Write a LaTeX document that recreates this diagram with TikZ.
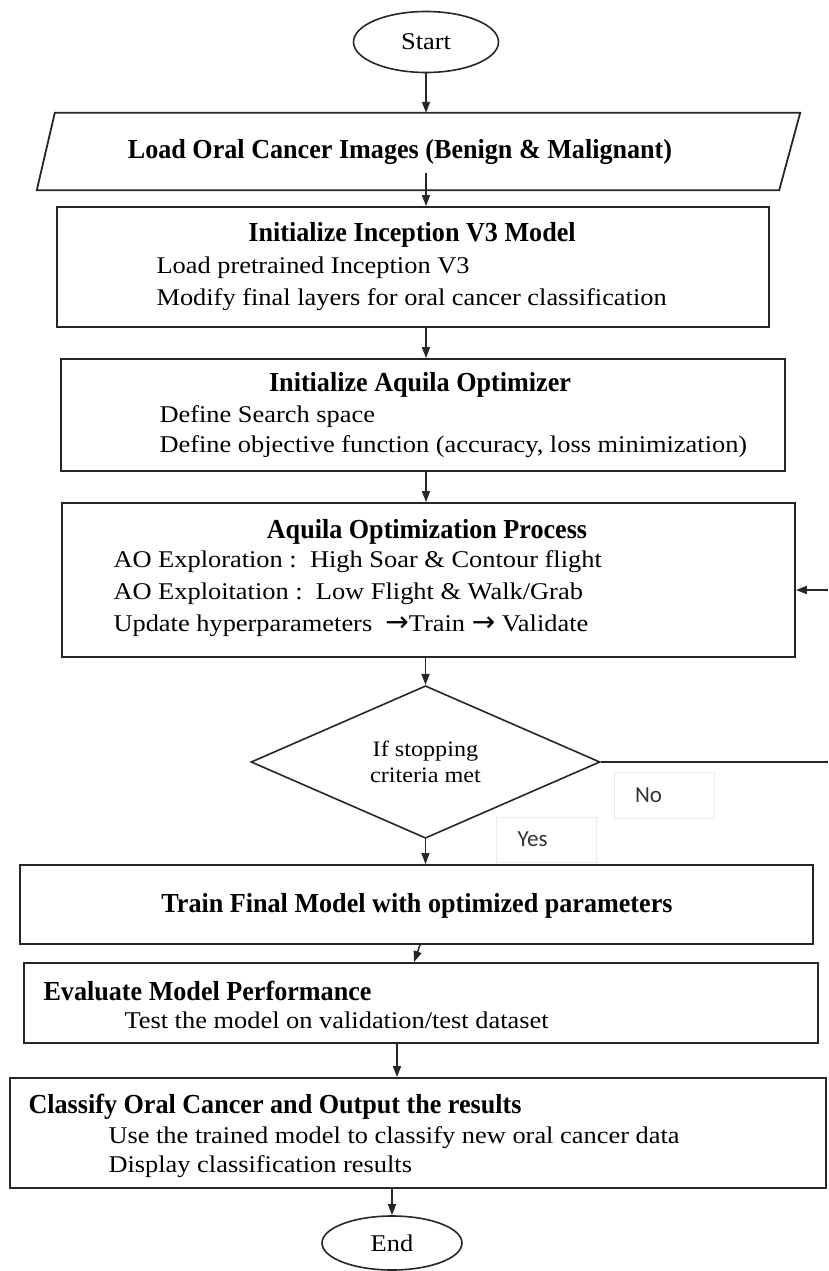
\documentclass[tikz,border=0pt]{standalone}
\usepackage{fontspec}
\setmainfont{Liberation Serif}[FakeStretch=1.1]
\newfontfamily\headfont{Liberation Serif}[FakeStretch=0.95]
\newfontfamily\labelfont{Carlito}
\newfontfamily\symfont{DejaVu Sans}
\usetikzlibrary{arrows.meta,shapes.geometric,calc}

\newcommand{\stepto}{{\symfont\fontsize{28}{28}\selectfont →}}

\tikzset{
  box/.style={draw=black!85, line width=1.8pt, rectangle, inner sep=0pt},
  term/.style={draw=black!85, line width=1.6pt, ellipse, inner sep=0pt, font=\fontsize{24}{28}\selectfont},
  arr/.style={-{Triangle[length=11pt,width=8pt]}, line width=1.5pt, black!85},
  head/.style={font=\headfont\bfseries\fontsize{27.5}{31}\selectfont},
  body/.style={anchor=west, font=\fontsize{24}{28}\selectfont},
  tag/.style={draw=black!8, line width=0.8pt, font=\labelfont\fontsize{23}{26}\selectfont,
    text=black!80, text width=58pt, inner xsep=21pt, align=left}
}

\begin{document}
\begin{tikzpicture}[x=1pt, y=-1pt, >=Stealth]
\useasboundingbox (0,0) rectangle (828,1271);
\node[term, minimum width=145, minimum height=61] (start) at (426,42) {Start};
\node[inner sep=0pt, minimum width=763, minimum height=77] (load) at (418.5,151.5) {};
\draw[box] ($(load.north west)+(18,0)$) -- (load.north east)
  -- ($(load.south east)+(-21,0)$) -- (load.south west) -- cycle;
\node[head] (loadtxt) at (400,152) {Load Oral Cancer Images (Benign \& Malignant)};
\foreach \nm/\cx/\cy/\w/\h in {
    incep/413/267/712/120,
    aqinit/423/415/724/112,
    aqproc/428.5/580/733/154,
    train/416.5/904.5/793/79,
    evalm/421/1003/794/80,
    classify/418/1133/816/110}{
  \node[box, minimum width=\w, minimum height=\h] (\nm) at (\cx,\cy) {};
}
\node[head] (incephead) at (412,235) {Initialize Inception V3 Model};
\node[head] (aqinithead) at (420,385) {Initialize Aquila Optimizer};
\node[head] (aqprochead) at (427,532) {Aquila Optimization Process};
\node[head] (traintxt) at (417,906) {Train Final Model with optimized parameters};
\node[head, anchor=west] (evalhead) at (40,991) {Evaluate Model Performance};
\node[head, anchor=west] (classhead) at (25,1107) {Classify Oral Cancer and Output the results};
\foreach \nm/\x/\y/\txt in {
    inc1/153/268/{Load pretrained Inception V3},
    inc2/153/300/{Modify final layers for oral cancer classification},
    aqi1/156/417/{Define Search space},
    aqi2/156/447/{Define objective function (accuracy, loss minimization)},
    aqp1/110/562/{AO Exploration :\ \ High Soar \& Contour flight},
    aqp2/110/594/{AO Exploitation :\ \ Low Flight \& Walk/Grab},
    aqp3/110/626/{Update hyperparameters\ \ \stepto Train \stepto\ Validate},
    ev1/121/1020/{Test the model on validation/test dataset},
    cl1/105/1138/{Use the trained model to classify new oral cancer data},
    cl2/105/1167/{Display classification results}}{
  \node[body] (\nm) at (\x,\y) {\txt};
}
\node[draw=black!85, line width=1.6pt, diamond, inner sep=0pt, minimum width=349, minimum height=140,
  align=center, font=\fontsize{22}{26}\selectfont] (stopq) at (425.5,762) {If stopping\\criteria met};
\node[tag, minimum height=46] (notag) at (664,795) {No};
\node[tag, minimum height=45] (yestag) at (546.5,839.5) {Yes};
\node[term, minimum width=140, minimum height=54] (finish) at (392,1243) {End};
\coordinate (rimx) at (828,0);
\coordinate (backin) at (828,590);
\coordinate (lowspine) at (397,0);
\draw[arr] (start.south) -- (start.south |- load.north);
\draw[arr] ($(start.south |- load.south)+(0,-17)$) -- (start.south |- incep.north);
\draw[arr] (incep.south -| start.south) -- (aqinit.north -| start.south);
\draw[arr] (aqinit.south -| start.south) -- (aqproc.north -| start.south);
\draw[arr] (aqproc.south -| stopq.north) -- (stopq.north);
\draw[line width=1.6pt, black!85] (stopq.east) -- (stopq.east -| rimx);
\draw[arr] (backin) -- (backin -| aqproc.east);
\draw[arr] (stopq.south) -- (stopq.south |- train.north);
\draw[arr] ($(train.south)+(3.5,0)$) -- ($(train.south |- evalm.north)+(-2.5,0)$);
\draw[arr] (evalm.south -| lowspine) -- (classify.north -| lowspine);
\draw[arr] (classify.south -| finish.north) -- (finish.north);
\end{tikzpicture}
\end{document}
